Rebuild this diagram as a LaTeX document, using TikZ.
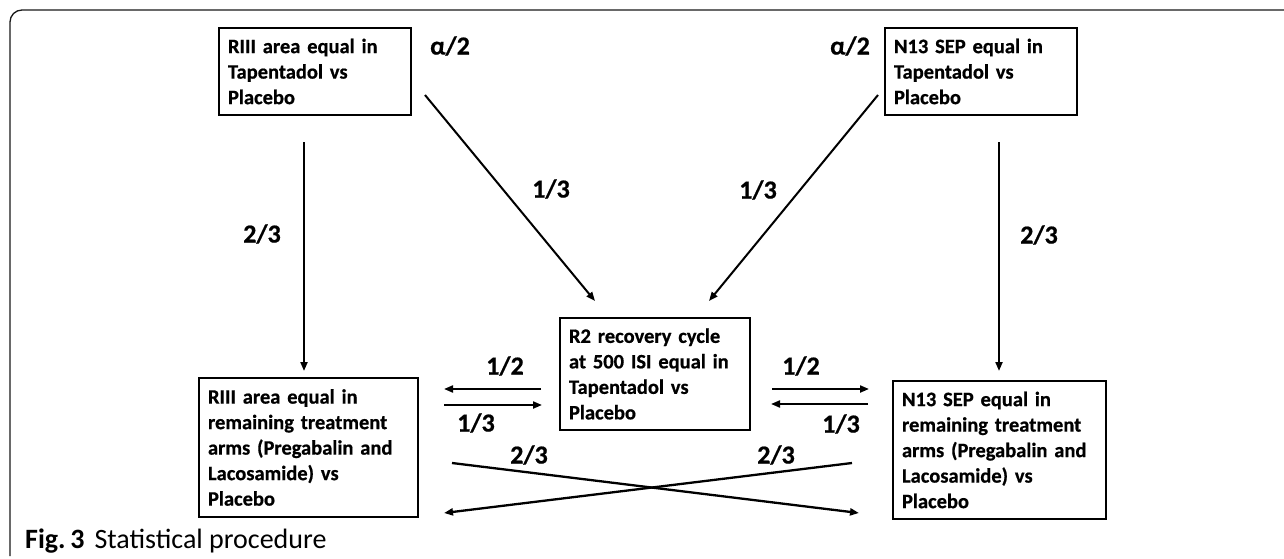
\documentclass[tikz,border=0pt]{standalone}
\usepackage{fontspec}
\setmainfont{Carlito}[BoldFont={Carlito Bold}]
\newfontfamily\boxfont{Carlito Bold}[FakeBold=0.6]
\usetikzlibrary{arrows.meta}
\begin{document}
\begin{tikzpicture}[x=1pt,y=-1pt,
  box/.style={draw, line width=2.5pt, inner xsep=9pt, inner ysep=0pt, align=left,
    font=\boxfont\fontsize{20.5}{25.5}\selectfont},
  arr/.style={line width=2pt, -{Triangle[length=9pt,width=7pt]}},
  lab/.style={font=\boxfont\fontsize{26}{30}\selectfont, inner sep=0pt},
  capstyle/.style={inner sep=0pt, anchor=base west}]
\useasboundingbox (0,0) rectangle (1284,559);
\draw[line width=1.3pt, black!90, rounded corners=12pt] (10,556) -- (10,10) -- (1284,10);

% boxes
\node[box, minimum width=192pt, minimum height=87pt, text width=174pt] (tl) at (315,71.5)
  {RIII area equal in\\Tapentadol vs\\Placebo};
\node[box, minimum width=192pt, minimum height=87pt, text width=174pt] (tr) at (981,71.5)
  {N13 SEP equal in\\Tapentadol vs\\Placebo};
\node[box, minimum width=190pt, minimum height=112pt, text width=172pt] (c) at (655,374)
  {R2 recovery cycle\\at 500 ISI equal in\\Tapentadol vs\\Placebo};
\node[box, minimum width=219pt, minimum height=139pt, text width=201pt] (bl) at (308.5,447.5)
  {RIII area equal in\\remaining treatment\\arms (Pregabalin and\\Lacosamide) vs\\Placebo};
\node[box, minimum width=213pt, minimum height=138pt, text width=195pt] (br) at (999.5,450)
  {N13 SEP equal in\\remaining treatment\\arms (Pregabalin and\\Lacosamide) vs\\Placebo};

% connector end points
\coordinate (vL1) at (304,142); \coordinate (vL2) at (304,371);
\coordinate (vR1) at (999,142); \coordinate (vR2) at (999,371);
\coordinate (dL1) at (425,95);  \coordinate (dL2) at (595,301);
\coordinate (dR1) at (878,95);  \coordinate (dR2) at (709,301);
\coordinate (hLa) at (541,389); \coordinate (hLb) at (444,389);
\coordinate (hLc) at (444,405); \coordinate (hLd) at (542,405);
\coordinate (hRa) at (772,389); \coordinate (hRb) at (869,389);
\coordinate (hRc) at (868,404); \coordinate (hRd) at (771,404);
\coordinate (x1a) at (452,463); \coordinate (x1b) at (859,513);
\coordinate (x2a) at (852,463); \coordinate (x2b) at (444,513);

\draw[arr] (vL1) -- (vL2);
\draw[arr] (vR1) -- (vR2);
\draw[arr] (dL1) -- (dL2);
\draw[arr] (dR1) -- (dR2);
\draw[arr] (hLa) -- (hLb);
\draw[arr] (hLc) -- (hLd);
\draw[arr] (hRa) -- (hRb);
\draw[arr] (hRc) -- (hRd);
\draw[arr, line width=2.3pt] (x1a) -- (x1b);
\draw[arr, line width=2.3pt] (x2a) -- (x2b);

% labels
\node[lab] (a1) at (450,46) {α/2};
\node[lab] (a2) at (850,46) {α/2};
\node[lab] (d1) at (551,189) {1/3};
\node[lab] (d2) at (758,190) {1/3};
\node[lab] (v1) at (262,234) {2/3};
\node[lab] (v2) at (1039,235) {2/3};
\node[lab] (h1) at (505,366) {1/2};
\node[lab] (h2) at (801,366) {1/2};
\node[lab] (h3) at (476,423) {1/3};
\node[lab] (h4) at (841,424) {1/3};
\node[lab] (x1) at (529,455) {2/3};
\node[lab] (x2) at (776,455) {2/3};

% caption
\node[capstyle] (cap) at (25,548)
  {\fontsize{28}{32}\selectfont\textbf{Fig.\,3}\hspace{10pt}Statistical procedure};
\end{tikzpicture}
\end{document}
